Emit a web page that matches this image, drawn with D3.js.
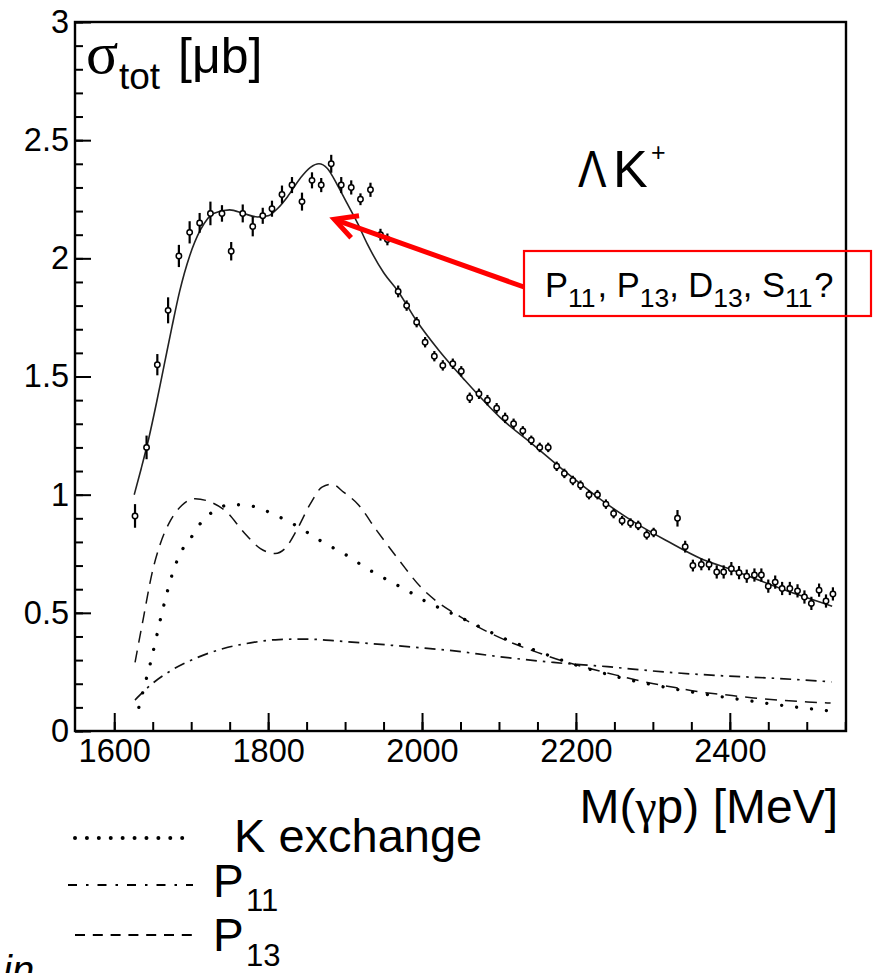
<!DOCTYPE html>
<html>
<head>
<meta charset="utf-8">
<script src="https://cdn.jsdelivr.net/npm/d3@7"></script>
<style>
  body { margin: 0; background: #fff; }
  svg { display: block; }
  text { font-family: "Liberation Sans", Arial, sans-serif; fill: #000; }
</style>
</head>
<body>
<svg id="chart" width="875" height="973"></svg>
<script>
// ---- measured total cross section, gamma p -> Lambda K+ ----
const massMeV = [1627,1642,1656,1670,1684,1698,1711,1725,1740,1752,
  1767,1780,1793,1805,1818,1831,1844,1857,1869,1882,
  1895,1908,1920,1933,1946,1955,1969,1980,1993,2004,
  2016,2027,2040,2051,2062,2074,2085,2097,2108,2119,
  2131,2142,2153,2164,2175,2185,2196,2206,2217,2228,
  2239,2249,2260,2271,2281,2292,2301,2332,2342,2352,
  2363,2373,2383,2392,2402,2412,2422,2432,2441,2450,
  2459,2468,2478,2488,2497,2506,2516,2525,2534];
const sigmaTot = [0.91,1.20,1.55,1.78,2.01,2.11,2.15,2.19,2.19,2.03,
  2.19,2.135,2.18,2.21,2.27,2.31,2.24,2.33,2.31,2.40,
  2.31,2.30,2.25,2.29,2.10,2.08,1.86,1.80,1.73,1.645,
  1.586,1.547,1.554,1.522,1.41,1.427,1.40,1.366,1.325,1.30,
  1.27,1.23,1.20,1.20,1.12,1.09,1.06,1.04,1.00,1.00,
  0.96,0.92,0.89,0.88,0.87,0.83,0.84,0.90,0.78,0.70,
  0.705,0.705,0.673,0.673,0.687,0.67,0.655,0.66,0.66,0.613,
  0.63,0.603,0.603,0.593,0.567,0.54,0.596,0.55,0.58];
const sigmaErr = [0.05,0.05,0.045,0.055,0.047,0.047,0.042,0.05,0.035,0.039,
  0.038,0.042,0.034,0.034,0.038,0.034,0.038,0.034,0.03,0.038,
  0.034,0.03,0.025,0.03,0.025,0.025,0.025,0.022,0.022,0.022,
  0.022,0.022,0.022,0.022,0.022,0.022,0.022,0.022,0.022,0.022,
  0.02,0.02,0.02,0.02,0.02,0.02,0.02,0.02,0.02,0.02,
  0.02,0.02,0.02,0.02,0.02,0.02,0.02,0.035,0.025,0.025,
  0.025,0.025,0.028,0.028,0.028,0.028,0.028,0.028,0.028,0.028,
  0.028,0.028,0.028,0.028,0.028,0.028,0.028,0.028,0.028];

// ---- model curves [M (MeV), sigma (mu b)] ----
const fitTotal = [[1626,1.00],[1635,1.11],[1645,1.24],[1655,1.39],[1665,1.55],[1675,1.71],
  [1685,1.86],[1698,2.01],[1712,2.12],[1729,2.19],[1750,2.205],[1768,2.19],[1786,2.175],
  [1800,2.18],[1812,2.21],[1825,2.26],[1842,2.34],[1855,2.385],[1866,2.40],[1877,2.38],
  [1890,2.31],[1903,2.23],[1916,2.15],[1929,2.06],[1950,1.94],[1969,1.86],[1992,1.74],
  [2022,1.61],[2054,1.49],[2102,1.325],[2145,1.21],[2189,1.09],[2232,0.98],[2275,0.885],
  [2318,0.805],[2362,0.73],[2400,0.685],[2449,0.624],[2490,0.575],[2533,0.528]];
const kExchange = [[1632,0.10],[1640,0.20],[1648,0.30],[1655,0.40],[1662,0.50],[1669,0.59],
  [1677,0.68],[1689,0.77],[1702,0.828],[1714,0.887],[1730,0.931],[1751,0.958],[1773,0.955],
  [1793,0.937],[1813,0.908],[1832,0.877],[1850,0.842],[1869,0.803],[1888,0.769],[1907,0.734],
  [1925,0.694],[1944,0.659],[1962,0.627],[1981,0.594],[2000,0.557],[2020,0.525],[2039,0.497],
  [2059,0.466],[2078,0.436],[2097,0.406],[2117,0.377],[2137,0.354],[2158,0.328],[2190,0.29],
  [2230,0.25],[2265,0.22],[2301,0.195],[2345,0.168],[2410,0.135],[2453,0.115],[2496,0.097],
  [2530,0.085]];
const p11Wave = [[1627,0.131],[1647,0.194],[1675,0.258],[1708,0.311],[1742,0.349],[1777,0.373],
  [1814,0.387],[1850,0.389],[1885,0.382],[1922,0.373],[1959,0.363],[1991,0.354],[2033,0.342],
  [2102,0.314],[2171,0.29],[2241,0.272],[2314,0.25],[2388,0.234],[2459,0.223],[2532,0.208]];
const p13Wave = [[1627,0.29],[1638,0.48],[1649,0.666],[1660,0.793],[1673,0.89],[1688,0.955],
  [1705,0.983],[1725,0.969],[1746,0.927],[1768,0.842],[1790,0.772],[1809,0.751],[1822,0.772],
  [1837,0.849],[1855,0.962],[1870,1.032],[1883,1.044],[1898,1.011],[1916,0.962],[1941,0.849],
  [1972,0.715],[1998,0.61],[2020,0.546],[2050,0.483],[2085,0.42],[2119,0.37],[2154,0.328],
  [2189,0.29],[2223,0.26],[2258,0.232],[2293,0.205],[2327,0.185],[2362,0.165],[2397,0.152],
  [2431,0.14],[2466,0.13],[2501,0.123],[2531,0.118]];

// ---- axes ----
const xMajorTicks = [1600, 1800, 2000, 2200, 2400];
const xTickLabels = ["1600", "1800", "2000", "2200", "2400"];
const xMinorTicks = d3.range(1600, 2551, 50);
const yMajorTicks = [0, 0.5, 1, 1.5, 2, 2.5, 3];
const yTickLabels = ["0", "0.5", "1", "1.5", "2", "2.5", "3"];
const yMinorTicks = d3.range(0, 31).map(i => i / 10);

// annotation arrow tip, in data units
const arrowTip = [1886, 2.165];

const svg = d3.select("#chart");
const x = d3.scaleLinear().domain([1549, 2551]).range([75, 846]);
const y = d3.scaleLinear().domain([0, 3]).range([731, 22]);

// minor ticks
svg.append("g").attr("transform", "translate(0,731)")
  .call(d3.axisBottom(x).tickValues(xMinorTicks).tickSize(-9).tickFormat(""))
  .call(g => g.select(".domain").remove());
svg.append("g").attr("transform", "translate(75,0)")
  .call(d3.axisLeft(y).tickValues(yMinorTicks).tickSize(-8).tickFormat(""))
  .call(g => g.select(".domain").remove());

// major ticks with labels
const gx = svg.append("g").attr("transform", "translate(0,731)")
  .call(d3.axisBottom(x).tickValues(xMajorTicks).tickSize(-18).tickPadding(8)
    .tickFormat((d, i) => xTickLabels[i]));
gx.select(".domain").remove();
const gy = svg.append("g").attr("transform", "translate(75,0)")
  .call(d3.axisLeft(y).tickValues(yMajorTicks).tickSize(-16).tickPadding(6)
    .tickFormat((d, i) => yTickLabels[i]));
gy.select(".domain").remove();
svg.selectAll(".tick line").attr("stroke", "#000").attr("stroke-width", 2);
svg.selectAll(".tick text").attr("font-family", "Liberation Sans, Arial, sans-serif")
  .attr("font-size", 32.5).attr("fill", "#000");

// frame
svg.append("rect").attr("x", 75).attr("y", 22).attr("width", 771).attr("height", 709)
  .attr("fill", "none").attr("stroke", "#000").attr("stroke-width", 2.4);

// model curves
const line = d3.line().x(d => x(d[0])).y(d => y(d[1])).curve(d3.curveMonotoneX);
svg.append("path").datum(p11Wave).attr("d", line).attr("fill", "none")
  .attr("stroke", "#111").attr("stroke-width", 1.7).attr("stroke-dasharray", "11,6,2.5,6");
svg.append("path").datum(p13Wave).attr("d", line).attr("fill", "none")
  .attr("stroke", "#111").attr("stroke-width", 1.5).attr("stroke-dasharray", "12,8");
svg.append("path").datum(kExchange).attr("d", line).attr("fill", "none")
  .attr("stroke", "#000").attr("stroke-width", 3.3).attr("stroke-linecap", "round")
  .attr("stroke-dasharray", "0.01,15");
svg.append("path").datum(fitTotal).attr("d", line).attr("fill", "none")
  .attr("stroke", "#222").attr("stroke-width", 1.6);

// data points with error bars
const pts = massMeV.map((m, i) => ({ m, s: sigmaTot[i], e: sigmaErr[i] }));
const gp = svg.append("g");
gp.selectAll("line").data(pts).join("line")
  .attr("x1", d => x(d.m)).attr("x2", d => x(d.m))
  .attr("y1", d => y(d.s - d.e)).attr("y2", d => y(d.s + d.e))
  .attr("stroke", "#000").attr("stroke-width", 2.2);
gp.selectAll("circle").data(pts).join("circle")
  .attr("cx", d => x(d.m)).attr("cy", d => y(d.s)).attr("r", 2.7)
  .attr("fill", "#fff").attr("stroke", "#000").attr("stroke-width", 1.5);

// y title: sigma_tot [mu b]
const yt = svg.append("text").attr("y", 73).attr("font-size", 50);
yt.append("tspan").attr("x", 86).attr("font-family", "Liberation Serif, serif")
  .attr("font-size", 60).text("σ");
yt.append("tspan").attr("x", 119).attr("y", 89).attr("font-size", 37).text("tot");
yt.append("tspan").attr("x", 178).attr("y", 73).text("[μb]");

// x title: M(gamma p) [MeV]
const xt = svg.append("text").attr("x", 838).attr("y", 823).attr("font-size", 48)
  .attr("text-anchor", "end");
xt.append("tspan").text("M(");
xt.append("tspan").attr("font-family", "Liberation Serif, serif").text("γ");
xt.append("tspan").text("p) [MeV]");

// reaction label
svg.append("text").attr("transform", "translate(578,187) scale(0.82,1)")
  .attr("font-family", "Liberation Serif, serif").attr("font-size", 52).text("Λ");
svg.append("text").attr("x", 613).attr("y", 187).attr("font-size", 52).text("K");
svg.append("text").attr("x", 651).attr("y", 161).attr("font-size", 25).text("+");

// resonance annotation box + arrow
const red = "#ff0000";
svg.append("rect").attr("x", 524).attr("y", 251).attr("width", 347).attr("height", 65)
  .attr("fill", "none").attr("stroke", red).attr("stroke-width", 2.2);
const at = svg.append("text").attr("y", 297).attr("font-size", 34.5);
const parts = [["P", "11", ", "], ["P", "13", ", "], ["D", "13", ", "], ["S", "11", "?"]];
let cx = 545;
parts.forEach(([a, sub, tail]) => {
  at.append("tspan").attr("x", cx).attr("y", 297).text(a);
  cx += (a === "D" ? 0.722 : 0.667) * 34.5;
  at.append("tspan").attr("x", cx).attr("y", 307).attr("font-size", 26.5).text(sub);
  cx += 2 * 0.556 * 26.5;
  at.append("tspan").attr("x", cx).attr("y", 297).text(tail);
  cx += 0.556 * 34.5;
});

const tipX = x(arrowTip[0]), tipY = y(arrowTip[1]);
const startX = 524, startY = 287;
const ang = Math.atan2(startY - tipY, startX - tipX);
const wing = 25, spread = 28 * Math.PI / 180;
svg.append("line").attr("x1", startX).attr("y1", startY).attr("x2", tipX + 3 * Math.cos(ang))
  .attr("y2", tipY + 3 * Math.sin(ang)).attr("stroke", red).attr("stroke-width", 5);
svg.append("path")
  .attr("d", `M${tipX + wing * Math.cos(ang - spread)},${tipY + wing * Math.sin(ang - spread)}` +
    `L${tipX},${tipY}L${tipX + wing * Math.cos(ang + spread)},${tipY + wing * Math.sin(ang + spread)}`)
  .attr("fill", "none").attr("stroke", red).attr("stroke-width", 5)
  .attr("stroke-linejoin", "miter").attr("stroke-linecap", "butt");

// legend
const legend = [
  { y: 838, dash: "0.01,11.9", w: 4, cap: "round", x1: 75 },
  { y: 885, dash: "9,9,2.5,9", w: 1.8, cap: "butt", x1: 68 },
  { y: 935, dash: "10,7.8", w: 1.8, cap: "butt", x1: 75 }
];
svg.selectAll(".leg").data(legend).join("line").attr("class", "leg")
  .attr("x1", d => d.x1).attr("x2", 193).attr("y1", d => d.y).attr("y2", d => d.y)
  .attr("stroke", "#000").attr("stroke-width", d => d.w)
  .attr("stroke-linecap", d => d.cap).attr("stroke-dasharray", d => d.dash);
svg.append("text").attr("x", 234).attr("y", 852).attr("font-size", 47).text("K exchange");
const l2 = svg.append("text").attr("x", 213).attr("y", 897).attr("font-size", 46);
l2.append("tspan").text("P");
l2.append("tspan").attr("x", 246).attr("y", 911).attr("font-size", 31).text("11");
const l3 = svg.append("text").attr("x", 213).attr("y", 951).attr("font-size", 46);
l3.append("tspan").text("P");
l3.append("tspan").attr("x", 246).attr("y", 966).attr("font-size", 31).text("13");

// caption fragment running off the lower edge
svg.append("text").attr("x", 3).attr("y", 984).attr("font-size", 40)
  .attr("font-style", "italic").text("in");
</script>
</body>
</html>
